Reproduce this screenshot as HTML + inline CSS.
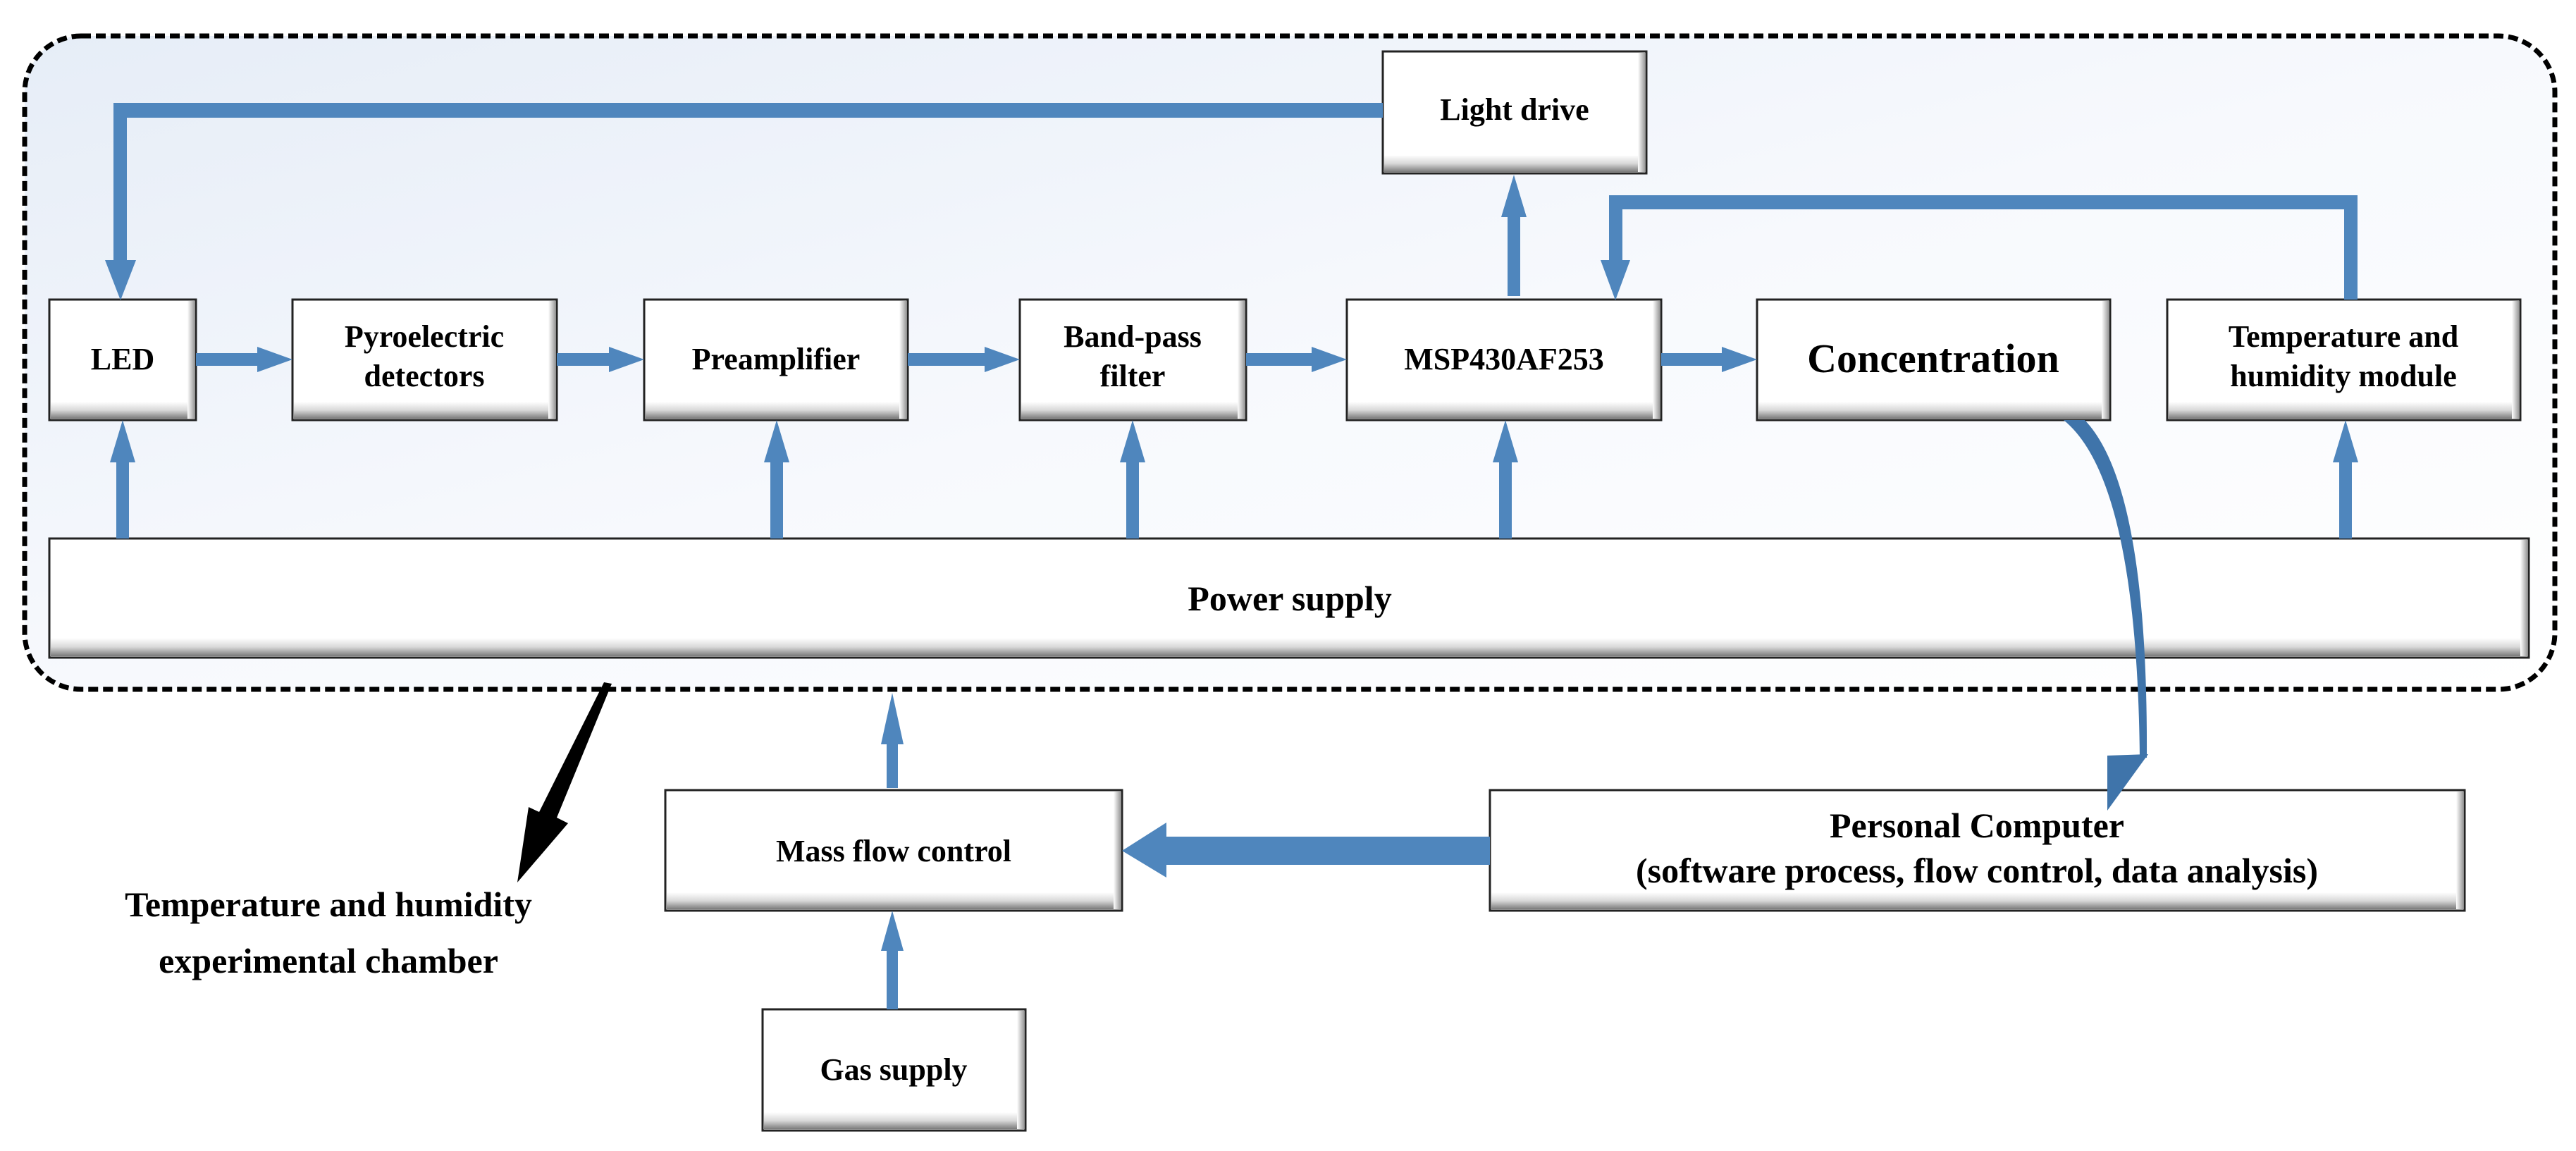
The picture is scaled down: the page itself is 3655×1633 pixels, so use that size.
<!DOCTYPE html>
<html><head><meta charset="utf-8"><style>
html,body{margin:0;padding:0;background:#fff}
svg{display:block}
svg text{font-family:"Liberation Serif","Times New Roman",serif;font-weight:bold;fill:#000}
</style></head><body>
<svg width="3655" height="1633" viewBox="0 0 3655 1633" xmlns="http://www.w3.org/2000/svg" font-family="Liberation Serif, serif">
<defs>
<linearGradient id="bg" x1="0" y1="0" x2="1" y2="1">
<stop offset="0" stop-color="#e6edf7"/><stop offset="0.5" stop-color="#f7f9fd"/><stop offset="1" stop-color="#ffffff"/>
</linearGradient>
<linearGradient id="bev" x1="0" y1="0" x2="0" y2="1">
<stop offset="0" stop-color="#ffffff"/><stop offset="0.5" stop-color="#d8d8d8"/><stop offset="1" stop-color="#7a7a7a"/>
</linearGradient>
<linearGradient id="bevr" x1="0" y1="0" x2="1" y2="0">
<stop offset="0" stop-color="#ffffff"/><stop offset="1" stop-color="#9a9a9a"/>
</linearGradient>
</defs>
<rect x="35" y="51" width="3590" height="927" rx="80" fill="url(#bg)" stroke="#000" stroke-width="7" stroke-dasharray="14 7"/>

<g stroke="#222" stroke-width="3">
<rect x="70" y="425" width="208" height="171" fill="#fff"/>
<rect x="415" y="425" width="375" height="171" fill="#fff"/>
<rect x="914" y="425" width="374" height="171" fill="#fff"/>
<rect x="1447" y="425" width="321" height="171" fill="#fff"/>
<rect x="1911" y="425" width="446" height="171" fill="#fff"/>
<rect x="2493" y="425" width="501" height="171" fill="#fff"/>
<rect x="3075" y="425" width="501" height="171" fill="#fff"/>
<rect x="1962" y="73" width="374" height="173" fill="#fff"/>
<rect x="70" y="764" width="3518" height="169" fill="#fff"/>
<rect x="944" y="1121" width="648" height="171" fill="#fff"/>
<rect x="2114" y="1121" width="1383" height="171" fill="#fff"/>
<rect x="1082" y="1432" width="373" height="172" fill="#fff"/>
</g>
<g stroke="none">
<rect x="72" y="570" width="204" height="24" fill="url(#bev)"/><rect x="266" y="427" width="10" height="167" fill="url(#bevr)"/>
<rect x="417" y="570" width="371" height="24" fill="url(#bev)"/><rect x="778" y="427" width="10" height="167" fill="url(#bevr)"/>
<rect x="916" y="570" width="370" height="24" fill="url(#bev)"/><rect x="1276" y="427" width="10" height="167" fill="url(#bevr)"/>
<rect x="1449" y="570" width="317" height="24" fill="url(#bev)"/><rect x="1756" y="427" width="10" height="167" fill="url(#bevr)"/>
<rect x="1913" y="570" width="442" height="24" fill="url(#bev)"/><rect x="2345" y="427" width="10" height="167" fill="url(#bevr)"/>
<rect x="2495" y="570" width="497" height="24" fill="url(#bev)"/><rect x="2982" y="427" width="10" height="167" fill="url(#bevr)"/>
<rect x="3077" y="570" width="497" height="24" fill="url(#bev)"/><rect x="3564" y="427" width="10" height="167" fill="url(#bevr)"/>
<rect x="1964" y="220" width="370" height="24" fill="url(#bev)"/><rect x="2324" y="75" width="10" height="169" fill="url(#bevr)"/>
<rect x="72" y="905" width="3514" height="26" fill="url(#bev)"/><rect x="3576" y="766" width="10" height="165" fill="url(#bevr)"/>
<rect x="946" y="1266" width="644" height="24" fill="url(#bev)"/><rect x="1580" y="1123" width="10" height="167" fill="url(#bevr)"/>
<rect x="2116" y="1266" width="1379" height="24" fill="url(#bev)"/><rect x="3485" y="1123" width="10" height="167" fill="url(#bevr)"/>
<rect x="1084" y="1578" width="369" height="24" fill="url(#bev)"/><rect x="1443" y="1434" width="10" height="168" fill="url(#bevr)"/>
</g>

<g fill="#4f86bd" stroke="none">
<polygon points="278,501 365,501 365,492 415,510 365,528 365,519 278,519"/>
<polygon points="790,501 864,501 864,492 914,510 864,528 864,519 790,519"/>
<polygon points="1288,501 1397,501 1397,492 1447,510 1397,528 1397,519 1288,519"/>
<polygon points="1768,501 1861,501 1861,492 1911,510 1861,528 1861,519 1768,519"/>
<polygon points="2357,501 2443,501 2443,492 2493,510 2443,528 2443,519 2357,519"/>
<polygon points="165,764 165,656 156,656 174,596 192,656 183,656 183,764"/>
<polygon points="1093,764 1093,656 1084,656 1102,596 1120,656 1111,656 1111,764"/>
<polygon points="1598,764 1598,656 1589,656 1607,596 1625,656 1616,656 1616,764"/>
<polygon points="2127,764 2127,656 2118,656 2136,596 2154,656 2145,656 2145,764"/>
<polygon points="3319,764 3319,656 3310,656 3328,596 3346,656 3337,656 3337,764"/>
<polygon points="2139,420 2139,308 2130,308 2148,248 2166,308 2157,308 2157,420"/>
<polygon points="1962,146 161,146 161,369 149,369 171,426 193,369 180,369 180,167 1962,167"/>
<polygon points="3345,425 3345,277 2283,277 2283,369 2271,369 2292,426 2313,369 2302,369 2302,297 3326,297 3326,425"/>
<polygon points="1258,1118 1258,1056 1250,1056 1266,983 1282,1056 1274,1056 1274,1118"/>
<polygon points="1258,1432 1258,1349 1250,1349 1266,1292 1282,1349 1274,1349 1274,1432"/>
<polygon points="2114,1187 1655,1187 1655,1167 1592,1207 1655,1245 1655,1227 2114,1227"/>
</g>
<path d="M2928,596 Q3032,680 3036,1075 L3046,1075 Q3048,690 2958,596 Z" fill="#3f74aa"/>
<polygon points="2990,1072 3048,1070 2990,1150" fill="#3f74aa"/>
<polygon points="857,968 868,970 790,1160 806,1168 734,1252 750,1145 765,1152" fill="#000"/>

<g font-size="44" text-anchor="middle">
<text x="174" y="524">LED</text>
<text x="602" y="492">Pyroelectric</text>
<text x="602" y="548">detectors</text>
<text x="1101" y="524">Preamplifier</text>
<text x="1607" y="492">Band-pass</text>
<text x="1607" y="548">filter</text>
<text x="2134" y="524">MSP430AF253</text>
<text x="3325" y="492">Temperature and</text>
<text x="3325" y="548">humidity module</text>
<text x="2149" y="170">Light drive</text>
<text x="1268" y="1222">Mass flow control</text>
<text x="1268" y="1532">Gas supply</text>
</g>
<text x="2743" y="528" font-size="58" text-anchor="middle">Concentration</text>
<text x="1830" y="866" font-size="50" text-anchor="middle">Power supply</text>
<text x="2805" y="1188" font-size="50" text-anchor="middle">Personal Computer</text>
<text x="2805" y="1252" font-size="50" text-anchor="middle">(software process, flow control, data analysis)</text>
<text x="466" y="1300" font-size="50" text-anchor="middle">Temperature and humidity</text>
<text x="466" y="1380" font-size="50" text-anchor="middle">experimental chamber</text>
</svg>
</body></html>
